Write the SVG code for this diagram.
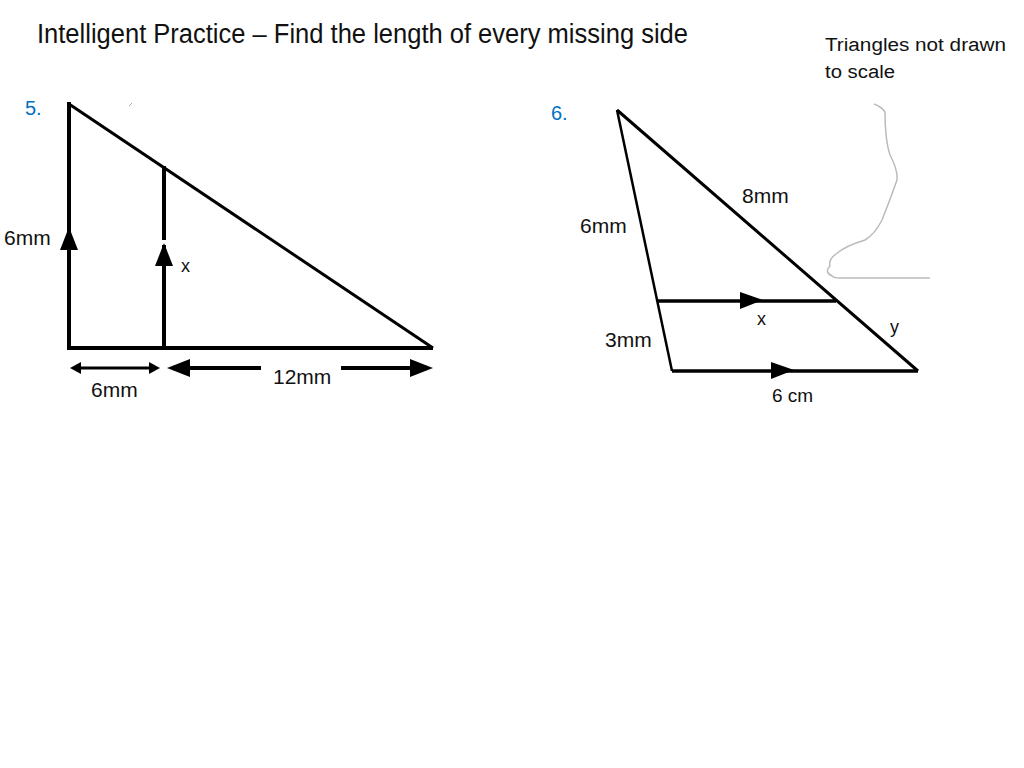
<svg xmlns="http://www.w3.org/2000/svg" width="1024" height="768" viewBox="0 0 1024 768">
<style>
text{font-family:"Liberation Sans",Arial,sans-serif;fill:#111}
.lbl{font-size:21px}
.num{font-size:20px;fill:#0070C0}
.ln{stroke:#000;fill:none;stroke-linecap:butt}
.head{fill:#000}
</style>
<rect width="1024" height="768" fill="#fff"/>
<text x="37" y="43" font-size="27" textLength="651" lengthAdjust="spacingAndGlyphs" fill="#333">Intelligent Practice – Find the length of every missing side</text>
<text x="825" y="51" font-size="18" textLength="181" lengthAdjust="spacingAndGlyphs">Triangles not drawn</text>
<text x="825" y="78" font-size="18" textLength="70" lengthAdjust="spacingAndGlyphs">to scale</text>

<g id="q5">
<text class="num" x="25" y="115">5.</text>
<line x1="129" y1="106" x2="132" y2="103" stroke="#aaa" stroke-width="1"/>
<path class="ln" d="M69,102 V348 H433" stroke-width="4"/>
<line class="ln" x1="69" y1="104" x2="433" y2="348" stroke-width="3"/>
<line class="ln" x1="164" y1="166" x2="164" y2="240" stroke-width="4"/>
<line class="ln" x1="164" y1="245" x2="164" y2="348" stroke-width="4"/>
<polygon class="head" points="69,227 60,250 78,250"/>
<polygon class="head" points="164,243 155,266 173,266"/>
<text class="lbl" x="4" y="245">6mm</text>
<text x="181" y="272" font-size="18">x</text>
<line class="ln" x1="78" y1="368" x2="152" y2="368" stroke-width="3"/>
<polygon class="head" points="70,368 81,362 81,374"/>
<polygon class="head" points="160,368 149,362 149,374"/>
<text class="lbl" x="91" y="397">6mm</text>
<polygon class="head" points="167,368 190,359 190,377"/>
<line class="ln" x1="188" y1="368" x2="261" y2="368" stroke-width="4"/>
<line class="ln" x1="341" y1="368" x2="412" y2="368" stroke-width="4"/>
<polygon class="head" points="433,368 410,359 410,377"/>
<text class="lbl" x="273" y="384">12mm</text>
</g>

<g id="q6">
<text class="num" x="551" y="120">6.</text>
<path d="M874,104 Q882,107 885,112 Q885,140 890,155 Q898,170 897,180 Q890,200 882,220 Q875,234 865,240 Q845,246 836,254 Q828,260 830,266 Q824,272 832,276 Q834,278 840,278 L930,278" fill="none" stroke="#bbb" stroke-width="1.5" stroke-linejoin="round"/>
<line class="ln" x1="617" y1="110" x2="672" y2="371" stroke-width="2.5"/>
<line class="ln" x1="617" y1="110" x2="918" y2="371" stroke-width="3"/>
<line class="ln" x1="672" y1="371" x2="918" y2="371" stroke-width="3.5"/>
<line class="ln" x1="657" y1="301" x2="836" y2="301" stroke-width="3.5"/>
<polygon class="head" points="763,300 740,292 740,309"/>
<polygon class="head" points="794,370 771,362 771,379"/>
<text class="lbl" x="742" y="203">8mm</text>
<text class="lbl" x="580" y="233">6mm</text>
<text class="lbl" x="605" y="347">3mm</text>
<text x="757" y="325" font-size="18">x</text>
<text x="890" y="333" font-size="18">y</text>
<text x="772" y="402" font-size="19">6 cm</text>
</g>
</svg>
